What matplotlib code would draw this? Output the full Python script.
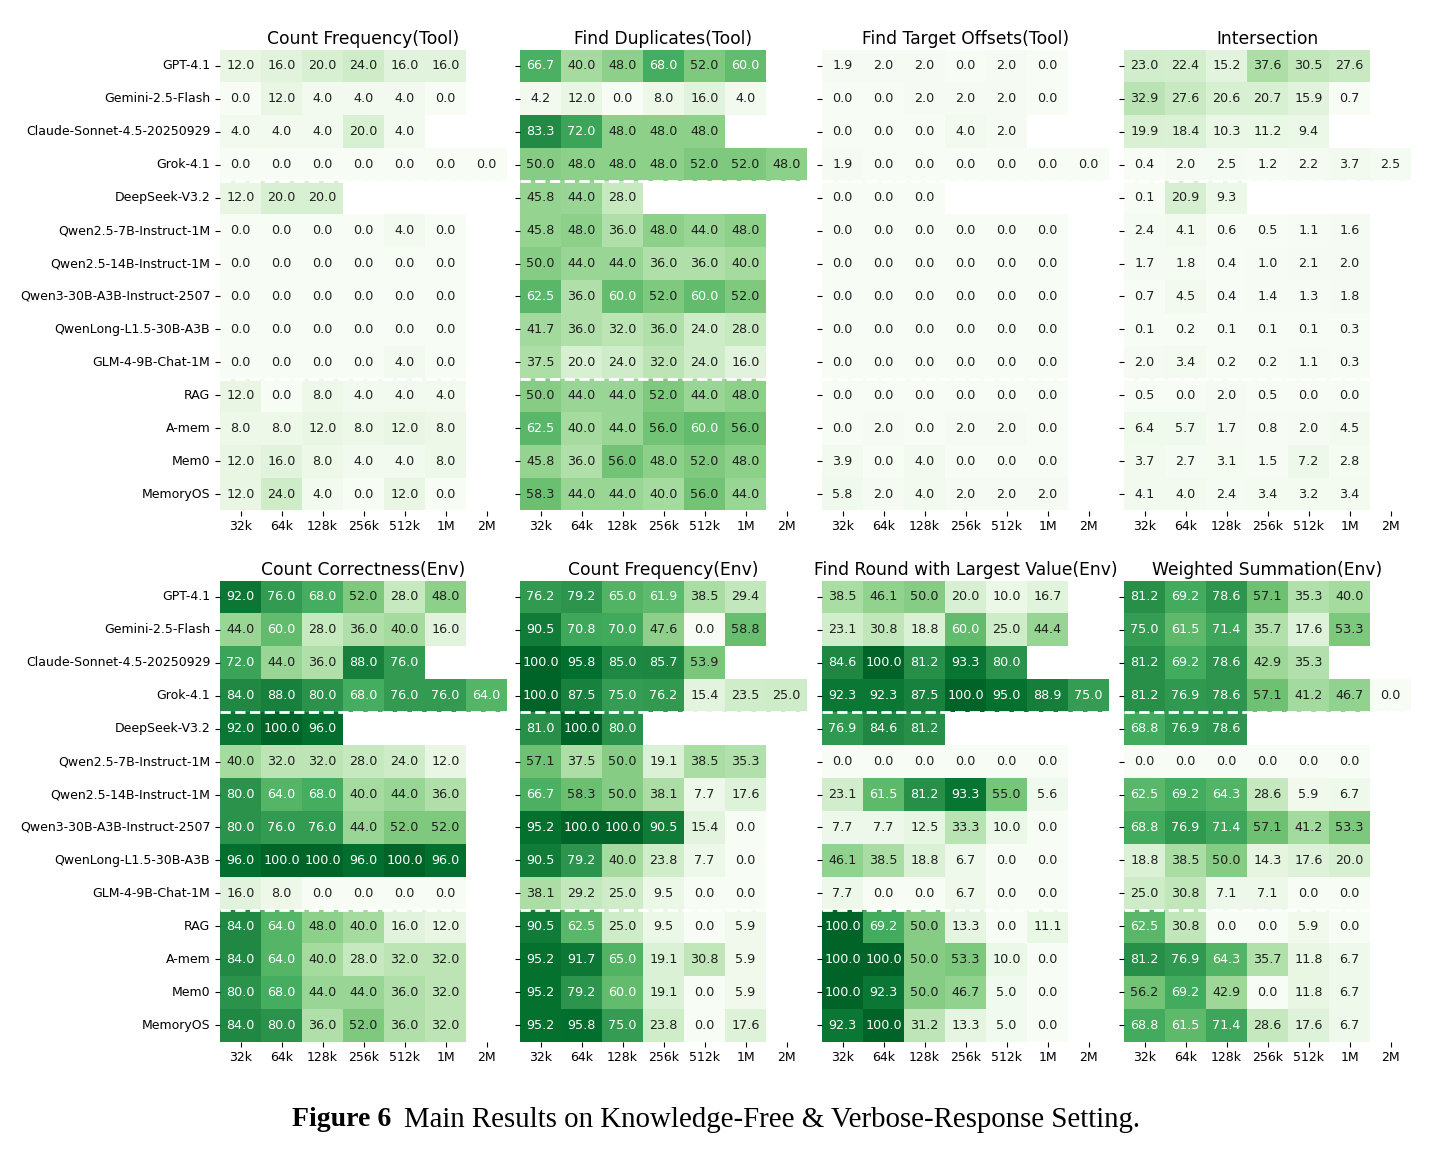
import numpy as np
import matplotlib
matplotlib.use("Agg")
import matplotlib.pyplot as plt
from matplotlib.colors import ListedColormap
import seaborn as sns

nan = np.nan

models = ["GPT-4.1", "Gemini-2.5-Flash", "Claude-Sonnet-4.5-20250929", "Grok-4.1",
          "DeepSeek-V3.2", "Qwen2.5-7B-Instruct-1M", "Qwen2.5-14B-Instruct-1M",
          "Qwen3-30B-A3B-Instruct-2507", "QwenLong-L1.5-30B-A3B", "GLM-4-9B-Chat-1M",
          "RAG", "A-mem", "Mem0", "MemoryOS"]
lengths = ["32k", "64k", "128k", "256k", "512k", "1M", "2M"]

count_freq_tool = [
    [12, 16, 20, 24, 16, 16, nan],
    [0, 12, 4, 4, 4, 0, nan],
    [4, 4, 4, 20, 4, nan, nan],
    [0, 0, 0, 0, 0, 0, 0],
    [12, 20, 20, nan, nan, nan, nan],
    [0, 0, 0, 0, 4, 0, nan],
    [0, 0, 0, 0, 0, 0, nan],
    [0, 0, 0, 0, 0, 0, nan],
    [0, 0, 0, 0, 0, 0, nan],
    [0, 0, 0, 0, 4, 0, nan],
    [12, 0, 8, 4, 4, 4, nan],
    [8, 8, 12, 8, 12, 8, nan],
    [12, 16, 8, 4, 4, 8, nan],
    [12, 24, 4, 0, 12, 0, nan],
]

find_dup_tool = [
    [66.7, 40, 48, 68, 52, 60, nan],
    [4.2, 12, 0, 8, 16, 4, nan],
    [83.3, 72, 48, 48, 48, nan, nan],
    [50, 48, 48, 48, 52, 52, 48],
    [45.8, 44, 28, nan, nan, nan, nan],
    [45.8, 48, 36, 48, 44, 48, nan],
    [50, 44, 44, 36, 36, 40, nan],
    [62.5, 36, 60, 52, 60, 52, nan],
    [41.7, 36, 32, 36, 24, 28, nan],
    [37.5, 20, 24, 32, 24, 16, nan],
    [50, 44, 44, 52, 44, 48, nan],
    [62.5, 40, 44, 56, 60, 56, nan],
    [45.8, 36, 56, 48, 52, 48, nan],
    [58.3, 44, 44, 40, 56, 44, nan],
]

find_offsets_tool = [
    [1.9, 2, 2, 0, 2, 0, nan],
    [0, 0, 2, 2, 2, 0, nan],
    [0, 0, 0, 4, 2, nan, nan],
    [1.9, 0, 0, 0, 0, 0, 0],
    [0, 0, 0, nan, nan, nan, nan],
    [0, 0, 0, 0, 0, 0, nan],
    [0, 0, 0, 0, 0, 0, nan],
    [0, 0, 0, 0, 0, 0, nan],
    [0, 0, 0, 0, 0, 0, nan],
    [0, 0, 0, 0, 0, 0, nan],
    [0, 0, 0, 0, 0, 0, nan],
    [0, 2, 0, 2, 2, 0, nan],
    [3.9, 0, 4, 0, 0, 0, nan],
    [5.8, 2, 4, 2, 2, 2, nan],
]

intersection = [
    [23.0, 22.4, 15.2, 37.6, 30.5, 27.6, nan],
    [32.9, 27.6, 20.6, 20.7, 15.9, 0.7, nan],
    [19.9, 18.4, 10.3, 11.2, 9.4, nan, nan],
    [0.4, 2.0, 2.5, 1.2, 2.2, 3.7, 2.5],
    [0.1, 20.9, 9.3, nan, nan, nan, nan],
    [2.4, 4.1, 0.6, 0.5, 1.1, 1.6, nan],
    [1.7, 1.8, 0.4, 1.0, 2.1, 2.0, nan],
    [0.7, 4.5, 0.4, 1.4, 1.3, 1.8, nan],
    [0.1, 0.2, 0.1, 0.1, 0.1, 0.3, nan],
    [2.0, 3.4, 0.2, 0.2, 1.1, 0.3, nan],
    [0.5, 0.0, 2.0, 0.5, 0.0, 0.0, nan],
    [6.4, 5.7, 1.7, 0.8, 2.0, 4.5, nan],
    [3.7, 2.7, 3.1, 1.5, 7.2, 2.8, nan],
    [4.1, 4.0, 2.4, 3.4, 3.2, 3.4, nan],
]

count_corr_env = [
    [92, 76, 68, 52, 28, 48, nan],
    [44, 60, 28, 36, 40, 16, nan],
    [72, 44, 36, 88, 76, nan, nan],
    [84, 88, 80, 68, 76, 76, 64],
    [92, 100, 96, nan, nan, nan, nan],
    [40, 32, 32, 28, 24, 12, nan],
    [80, 64, 68, 40, 44, 36, nan],
    [80, 76, 76, 44, 52, 52, nan],
    [96, 100, 100, 96, 100, 96, nan],
    [16, 8, 0, 0, 0, 0, nan],
    [84, 64, 48, 40, 16, 12, nan],
    [84, 64, 40, 28, 32, 32, nan],
    [80, 68, 44, 44, 36, 32, nan],
    [84, 80, 36, 52, 36, 32, nan],
]

count_freq_env = [
    [76.2, 79.2, 65.0, 61.9, 38.5, 29.4, nan],
    [90.5, 70.8, 70.0, 47.6, 0.0, 58.8, nan],
    [100, 95.8, 85.0, 85.7, 53.9, nan, nan],
    [100, 87.5, 75.0, 76.2, 15.4, 23.5, 25.0],
    [81.0, 100, 80.0, nan, nan, nan, nan],
    [57.1, 37.5, 50.0, 19.1, 38.5, 35.3, nan],
    [66.7, 58.3, 50.0, 38.1, 7.7, 17.6, nan],
    [95.2, 100, 100, 90.5, 15.4, 0.0, nan],
    [90.5, 79.2, 40.0, 23.8, 7.7, 0.0, nan],
    [38.1, 29.2, 25.0, 9.5, 0.0, 0.0, nan],
    [90.5, 62.5, 25.0, 9.5, 0.0, 5.9, nan],
    [95.2, 91.7, 65.0, 19.1, 30.8, 5.9, nan],
    [95.2, 79.2, 60.0, 19.1, 0.0, 5.9, nan],
    [95.2, 95.8, 75.0, 23.8, 0.0, 17.6, nan],
]

find_round_env = [
    [38.5, 46.1, 50.0, 20.0, 10.0, 16.7, nan],
    [23.1, 30.8, 18.8, 60.0, 25.0, 44.4, nan],
    [84.6, 100, 81.2, 93.3, 80.0, nan, nan],
    [92.3, 92.3, 87.5, 100, 95.0, 88.9, 75.0],
    [76.9, 84.6, 81.2, nan, nan, nan, nan],
    [0, 0, 0, 0, 0, 0, nan],
    [23.1, 61.5, 81.2, 93.3, 55.0, 5.6, nan],
    [7.7, 7.7, 12.5, 33.3, 10.0, 0.0, nan],
    [46.1, 38.5, 18.8, 6.7, 0.0, 0.0, nan],
    [7.7, 0.0, 0.0, 6.7, 0.0, 0.0, nan],
    [100, 69.2, 50.0, 13.3, 0.0, 11.1, nan],
    [100, 100, 50.0, 53.3, 10.0, 0.0, nan],
    [100, 92.3, 50.0, 46.7, 5.0, 0.0, nan],
    [92.3, 100, 31.2, 13.3, 5.0, 0.0, nan],
]

weighted_sum_env = [
    [81.2, 69.2, 78.6, 57.1, 35.3, 40.0, nan],
    [75.0, 61.5, 71.4, 35.7, 17.6, 53.3, nan],
    [81.2, 69.2, 78.6, 42.9, 35.3, nan, nan],
    [81.2, 76.9, 78.6, 57.1, 41.2, 46.7, 0.0],
    [68.8, 76.9, 78.6, nan, nan, nan, nan],
    [0, 0, 0, 0, 0, 0, nan],
    [62.5, 69.2, 64.3, 28.6, 5.9, 6.7, nan],
    [68.8, 76.9, 71.4, 57.1, 41.2, 53.3, nan],
    [18.8, 38.5, 50.0, 14.3, 17.6, 20.0, nan],
    [25.0, 30.8, 7.1, 7.1, 0.0, 0.0, nan],
    [62.5, 30.8, 0.0, 0.0, 5.9, 0.0, nan],
    [81.2, 76.9, 64.3, 35.7, 11.8, 6.7, nan],
    [56.2, 69.2, 42.9, 0.0, 11.8, 6.7, nan],
    [68.8, 61.5, 71.4, 28.6, 17.6, 6.7, nan],
]

panels = [
    ("Count Frequency(Tool)", count_freq_tool),
    ("Find Duplicates(Tool)", find_dup_tool),
    ("Find Target Offsets(Tool)", find_offsets_tool),
    ("Intersection", intersection),
    ("Count Correctness(Env)", count_corr_env),
    ("Count Frequency(Env)", count_freq_env),
    ("Find Round with Largest Value(Env)", find_round_env),
    ("Weighted Summation(Env)", weighted_sum_env),
]

# Greens, a bit lighter at the dark end
cmap = ListedColormap(plt.cm.Greens(np.linspace(0, 0.9, 256)))

W, H = 1433, 1152
fig = plt.figure(figsize=(W / 100, H / 100), dpi=100)

lefts = [220, 520, 822, 1124]
tops = [49.5, 580.5]
aw, ah = 287, 461

for k, (title, vals) in enumerate(panels):
    r, c = divmod(k, 4)
    ax = fig.add_axes([lefts[c] / W, 1 - (tops[r] + ah) / H, aw / W, ah / H])
    sns.heatmap(np.array(vals, dtype=float), ax=ax, cmap=cmap, vmin=0, vmax=100,
                annot=True, fmt=".1f", annot_kws={"fontsize": 9.2}, cbar=False,
                xticklabels=lengths, yticklabels=models if c == 0 else False)
    for t in ax.texts:
        t.set_color("white" if float(t.get_text()) >= 59.5 else "0.12")
    ax.axhline(4, color="white", ls="--", lw=2)
    ax.axhline(10, color="white", ls="--", lw=2)
    ax.set_title(title, fontsize=12.3, pad=4)
    ax.tick_params(axis="both", labelsize=9)
    ax.set_xticklabels(lengths, rotation=0)
    if c == 0:
        ax.set_yticklabels(models, rotation=0)
    else:
        ax.set_yticks(np.arange(len(models)) + 0.5)
        ax.set_yticklabels([])

fig.text(292 / W, 1 - 1120 / H, "Figure 6", fontsize=20, fontweight="bold",
         family="Liberation Serif", va="center", ha="left")
fig.text(404 / W, 1 - 1120 / H, "Main Results on Knowledge-Free & Verbose-Response Setting.",
         fontsize=20.8, family="Liberation Serif", va="center", ha="left")

fig.savefig("out.png", dpi=100)
